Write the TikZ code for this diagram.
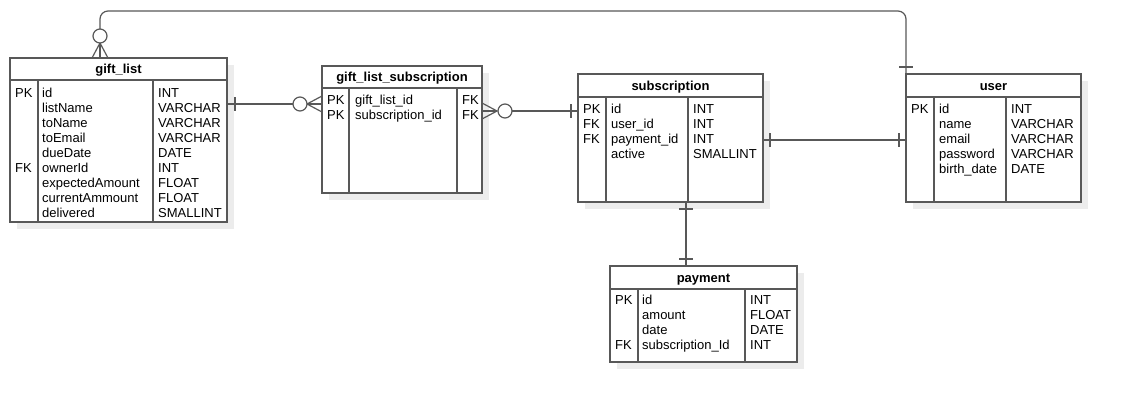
\documentclass[tikz,border=0pt]{standalone}
\usepackage{fontspec}
\setmainfont{Liberation Sans}
\definecolor{lc}{RGB}{88,88,88}
\definecolor{shc}{RGB}{236,236,236}
\tikzset{
  ln/.style={draw=lc, line width=1.2pt},
  fld/.style={anchor=base west, inner sep=0pt, font=\fontsize{13}{15}\selectfont, text=black},
  ttl/.style={anchor=base, inner sep=0pt, font=\bfseries\fontsize{13}{15}\selectfont, text=black},
  tbl/.style={draw=lc, line width=1.2pt, anchor=north west, inner sep=0pt, outer sep=0pt, fill=white},
  ring/.style={draw=lc, line width=1.2pt, fill=white},
}
% name, x, y, w, h, header height, divider1 x, divider2 x, title
\newcommand\erbox[9]{%
  \fill[shc] (#2+7,#3+7) rectangle (#2+#4+7,#3+#5+7);
  \node[tbl, minimum width=#4pt, minimum height=#5pt] (#1) at (#2,#3) {};
  \draw[ln] (#2,#3+#6) -- (#2+#4,#3+#6);
  \draw[ln] (#7,#3+#6) -- (#7,#3+#5);
  \draw[ln] (#8,#3+#6) -- (#8,#3+#5);
  \node[ttl] (#1-t) at (#2+#4/2,#3+#6/2+4.5) {#9};
}
% prefix, x, first row centre y, list
\newcommand\fields[4]{%
  \foreach \t [count=\i] in {#4} {\node[fld] (#1\i) at (#2,#3+15*\i-15+4.5) {\t};}
}
\begin{document}
\begin{tikzpicture}[x=1pt,y=-1pt]
\useasboundingbox (0,0) rectangle (1121,402);

% ---------------- tables ----------------
\erbox{giftlist}{10}{58}{217}{164}{22}{38}{153}{gift\_list}
\node[fld] (glk1) at (15,97.5) {PK};
\node[fld] (glk6) at (15,172.5) {FK};
\fields{gln}{42}{93}{id,listName,toName,toEmail,dueDate,ownerId,expectedAmount,currentAmmount,delivered}
\fields{glt}{158}{93}{INT,VARCHAR,VARCHAR,VARCHAR,DATE,INT,FLOAT,FLOAT,SMALLINT}

\erbox{gls}{322}{66}{160}{127}{22}{349}{457}{gift\_list\_subscription}
\fields{glsk}{327}{100}{PK,PK}
\fields{glsn}{355}{100}{gift\_list\_id,subscription\_id}
\fields{glsf}{462}{100}{FK,FK}

\erbox{subs}{578}{74}{185}{128}{23}{606}{688}{subscription}
\fields{subk}{583}{109}{PK,FK,FK}
\fields{subn}{611}{109}{id,user\_id,payment\_id,active}
\fields{subt}{693}{109}{INT,INT,INT,SMALLINT}

\erbox{user}{906}{74}{175}{128}{23}{934}{1006}{user}
\node[fld] (usk1) at (911,113.5) {PK};
\fields{usn}{939}{109}{id,name,email,password,birth\_date}
\fields{ust}{1011}{109}{INT,VARCHAR,VARCHAR,VARCHAR,DATE}

\erbox{payment}{610}{266}{187}{96}{23}{638}{745}{payment}
\node[fld] (pak1) at (615,304.5) {PK};
\node[fld] (pak4) at (615,349.5) {FK};
\fields{pan}{642}{300}{id,amount,date,subscription\_Id}
\fields{pat}{750}{300}{INT,FLOAT,DATE,INT}

% ---------------- connectors ----------------
% gift_list -- gift_list_subscription
\coordinate (c1s) at ([yshift=-46pt]giftlist.north east);
\coordinate (c1e) at ([yshift=-38pt]gls.north west);
\draw[ln] (c1s) -- ([xshift=-29pt]c1e);
\draw[ln] ([xshift=8pt,yshift=7pt]c1s) -- ([xshift=8pt,yshift=-7pt]c1s);
\draw[ln] ([yshift=8pt]c1e) -- ([xshift=-15pt]c1e) -- ([yshift=-8pt]c1e);
\draw[ln] ([xshift=-15pt]c1e) -- (c1e);
\draw[ring] ([xshift=-22pt]c1e) circle[radius=7pt];

% gift_list_subscription -- subscription
\coordinate (c2s) at ([yshift=-45pt]gls.north east);
\coordinate (c2e) at ([yshift=-37pt]subs.north west);
\draw[ln] ([xshift=30pt]c2s) -- (c2e);
\draw[ln] ([yshift=8pt]c2s) -- ([xshift=15pt]c2s) -- ([yshift=-8pt]c2s);
\draw[ln] (c2s) -- ([xshift=15pt]c2s);
\draw[ring] ([xshift=23pt]c2s) circle[radius=7pt];
\draw[ln] ([xshift=-7pt,yshift=7pt]c2e) -- ([xshift=-7pt,yshift=-7pt]c2e);

% subscription -- user
\coordinate (c3s) at ([yshift=-66pt]subs.north east);
\coordinate (c3e) at ([yshift=-66pt]user.north west);
\draw[ln] (c3s) -- (c3e);
\draw[ln] ([xshift=7pt,yshift=7pt]c3s) -- ([xshift=7pt,yshift=-7pt]c3s);
\draw[ln] ([xshift=-7pt,yshift=7pt]c3e) -- ([xshift=-7pt,yshift=-7pt]c3e);

% subscription -- payment
\coordinate (c4s) at ([xshift=15.5pt]subs.south);
\coordinate (c4e) at ([xshift=-17.5pt]payment.north);
\draw[ln] (c4s) -- (c4e);
\draw[ln] ([xshift=-7pt,yshift=-7pt]c4s) -- ([xshift=7pt,yshift=-7pt]c4s);
\draw[ln] ([xshift=-7pt,yshift=7pt]c4e) -- ([xshift=7pt,yshift=7pt]c4e);

% gift_list -- user (over the top)
\coordinate (c5s) at ([xshift=-18.5pt]giftlist.north);
\coordinate (c5e) at (user.north west);
\coordinate (toprow) at (500,11);
\draw[ln, rounded corners=8pt] ([yshift=29pt]c5s) -- (c5s |- toprow) -- (c5e |- toprow) -- (c5e);
\draw[ln] ([xshift=-8pt]c5s) -- ([yshift=15pt]c5s) -- ([xshift=8pt]c5s);
\draw[ln] (c5s) -- ([yshift=15pt]c5s);
\draw[ring] ([yshift=22pt]c5s) circle[radius=7pt];
\draw[ln] ([xshift=-7pt,yshift=7pt]c5e) -- ([xshift=7pt,yshift=7pt]c5e);
\end{tikzpicture}
\end{document}
